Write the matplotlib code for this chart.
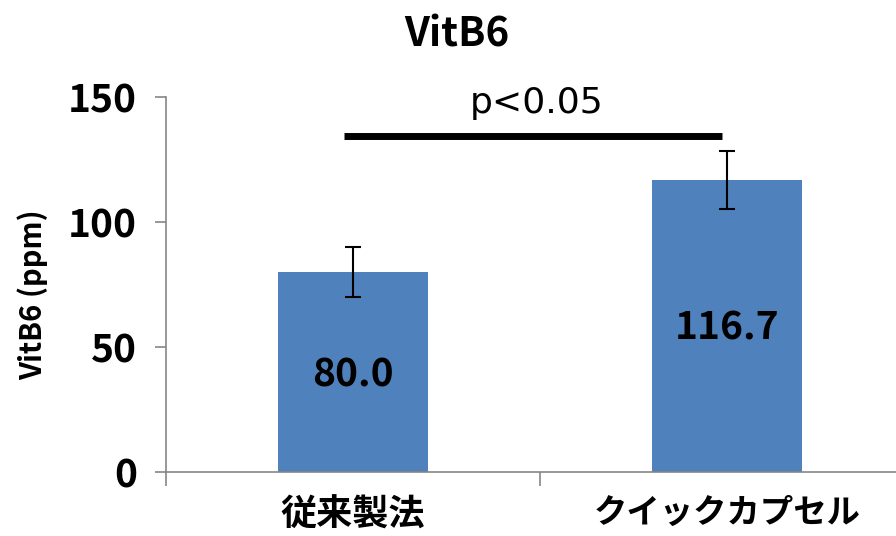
import matplotlib
matplotlib.use("Agg")
import matplotlib.pyplot as plt

categories = ["従来製法", "クイックカプセル"]
values = [80.0, 116.7]
errors = [10.0, 11.6]
value_labels = ["80.0", "116.7"]
label_y = [38.8, 57.6]
yticks = [0, 50, 100, 150]
sig_text = "p<0.05"
sig_y = 134.5

plt.rcParams['font.family'] = ['Noto Sans CJK JP', 'DejaVu Sans']

fig = plt.figure(figsize=(8.96, 5.36), dpi=100)
ax = fig.add_axes([166/896, 64/536, (914-166)/896, 375/536])

x = list(range(len(categories)))
ax.bar(x, values, width=0.4, color="#4F81BD", zorder=2)
ax.errorbar(x, values, yerr=errors, fmt="none", ecolor="black", elinewidth=1.5,
            capsize=6, capthick=1.5, zorder=3)

for xi, t, ly in zip(x, value_labels, label_y):
    ax.text(xi, ly, t, ha="center", va="center", fontsize=28, fontweight="bold", color="black")

ax.plot([-0.024, 0.987], [sig_y, sig_y], color="black", lw=5, solid_capstyle="butt", clip_on=False)
ax.text(0.49, 147.5, sig_text, ha="center", va="center", fontsize=26, color="black",
        family="DejaVu Sans")

ax.set_xlim(-0.5, 1.5)
ax.set_ylim(0, 150)
ax.set_yticks(yticks)
ax.set_yticklabels([str(v) for v in yticks], fontsize=28, fontweight="bold")
ax.set_xticks([-0.5, 0.5, 1.5])
ax.set_xticklabels([])
ax.set_xticks(x, minor=True)
lbls = ax.set_xticklabels(categories, minor=True, fontsize=25, fontweight="bold")
lbls[0].set_fontsize(26)
lbls[1].set_fontsize(24)
ax.tick_params(axis="x", which="minor", length=0, pad=18)
ax.tick_params(axis="x", which="major", length=10, width=1.2, color="#868686", direction="out")
ax.tick_params(axis="y", length=8, width=1.2, color="#868686", direction="out", pad=13)

for s in ["top", "right"]:
    ax.spines[s].set_visible(False)
for s in ["left", "bottom"]:
    ax.spines[s].set_color("#868686")
    ax.spines[s].set_linewidth(1.2)

ax.set_ylabel("VitB6 (ppm)", fontsize=21, fontweight="bold")
ax.yaxis.set_label_coords((48 - 166) / 748, (536 - 295 - 64) / 375)
fig.text(457/896, 1 - 35/536, "VitB6", ha="center", va="center", fontsize=29, fontweight="bold")

fig.savefig("out.png", dpi=100)
